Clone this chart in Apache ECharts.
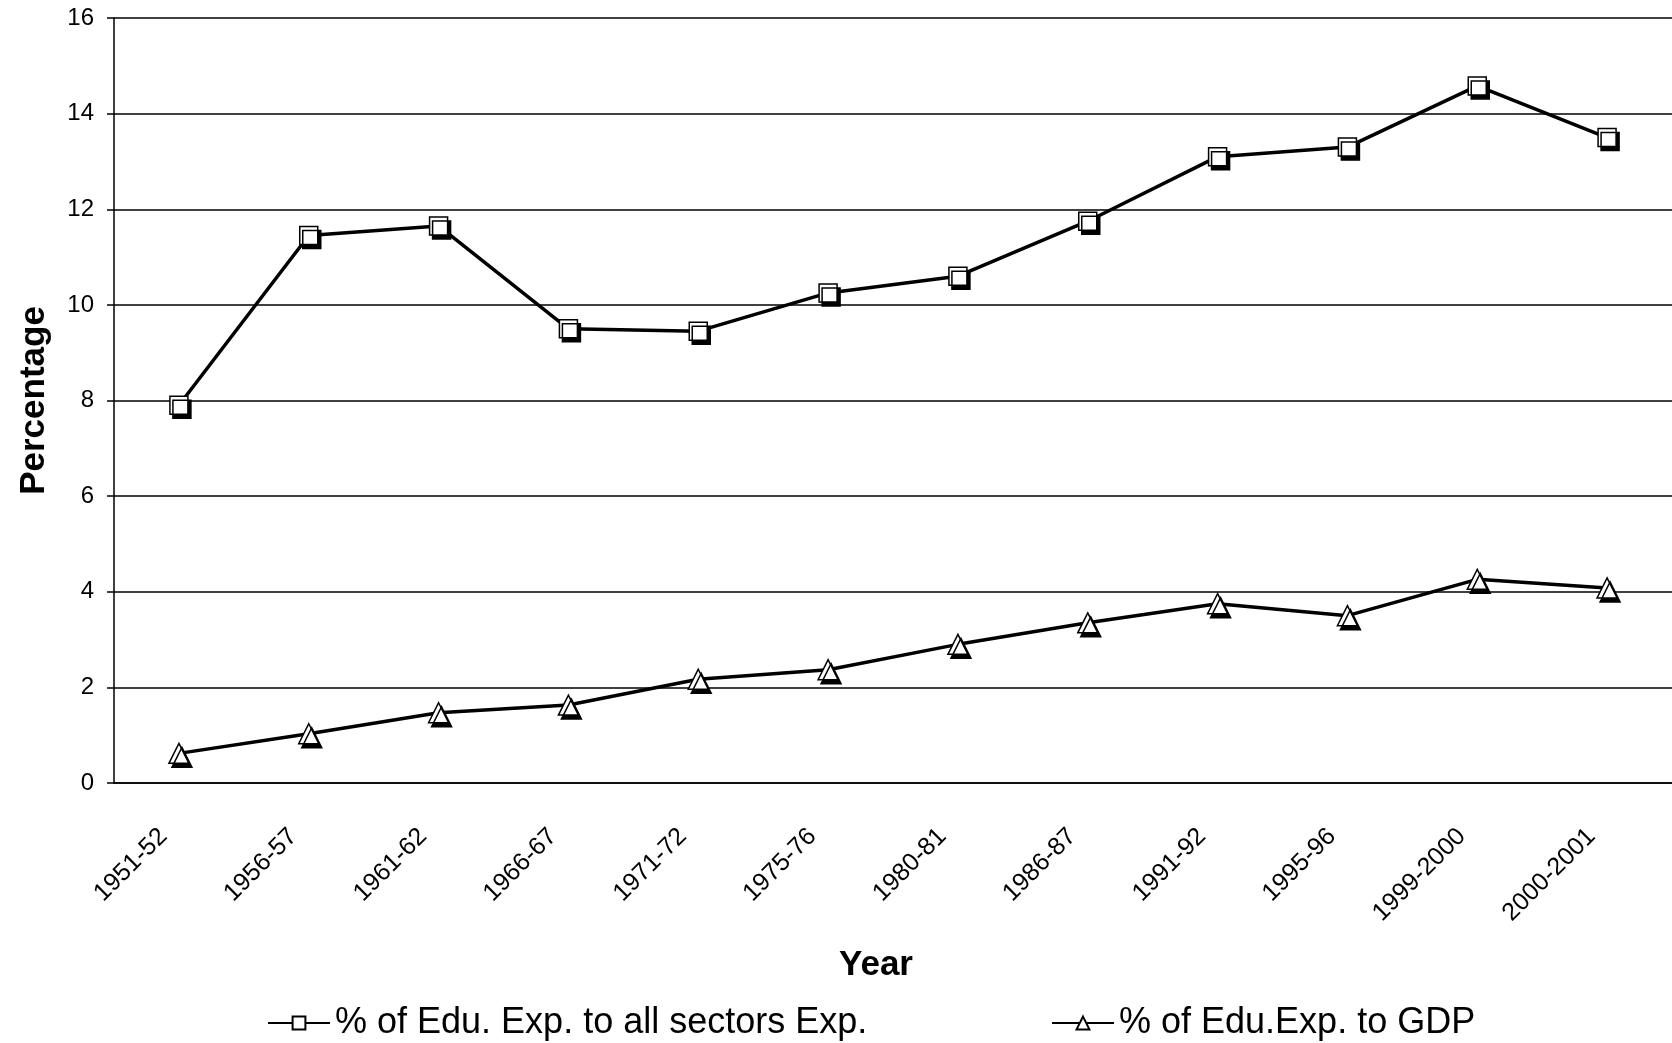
<!DOCTYPE html>
<html>
<head>
<meta charset="utf-8">
<title>Education expenditure</title>
<script src="https://cdn.jsdelivr.net/npm/echarts@6/dist/echarts.min.js"></script>
<style>
  html, body { margin: 0; padding: 0; background: #fff; }
  #chart { width: 1672px; height: 1043px; }
</style>
</head>
<body>
<div id="chart"></div>
<script>
// 年份类别
const years = ["1951-52", "1956-57", "1961-62", "1966-67", "1971-72", "1975-76",
  "1980-81", "1986-87", "1991-92", "1995-96", "1999-2000", "2000-2001"];
// 教育支出占所有部门支出的百分比
const sectorShare = [7.9, 11.45, 11.65, 9.5, 9.45, 10.25, 10.6, 11.75, 13.1, 13.3, 14.58, 13.5];
// 教育支出占 GDP 的百分比
const gdpShare = [0.62, 1.03, 1.47, 1.63, 2.17, 2.37, 2.9, 3.35, 3.75, 3.5, 4.26, 4.08];
const yTicks = [0, 2, 4, 6, 8, 10, 12, 14, 16];

const font = "Liberation Sans, Arial, sans-serif";
const chart = echarts.init(document.getElementById("chart"));

// 白色标记 + 黑色阴影
const markerStyle = {
  color: "#fff",
  borderColor: "#000",
  borderWidth: 1.5,
  shadowColor: "#000",
  shadowBlur: 0,
  shadowOffsetX: 3,
  shadowOffsetY: 4,
};

// 图例:两个独立放置
const legendBase = {
  top: 1000,
  itemWidth: 62,
  itemHeight: 16,
  itemGap: 8,
  itemStyle: { shadowOffsetX: 0, shadowOffsetY: 0, shadowColor: "transparent" },
  textStyle: { fontFamily: font, fontSize: 36, color: "#000" },
};

const option = {
  animation: false,
  backgroundColor: "#fff",
  textStyle: { fontFamily: font, color: "#000" },
  grid: { left: 114, top: 18, width: 1565, bottom: 260 },
  legend: [
    Object.assign({}, legendBase, { left: 262, data: ["% of Edu. Exp. to all sectors Exp."] }),
    Object.assign({}, legendBase, { left: 1046, data: ["% of Edu.Exp. to GDP"] }),
  ],
  xAxis: {
    type: "category",
    data: years,
    name: "Year",
    nameLocation: "middle",
    nameGap: 165,
    nameTextStyle: { fontFamily: font, fontSize: 35, fontWeight: "bold", color: "#000", padding: [0, 34, 0, 0] },
    axisLine: { lineStyle: { color: "#000", width: 1.5 } },
    axisTick: { length: 8, lineStyle: { color: "#000", width: 1.5 } },
    axisLabel: {
      rotate: 45, margin: 34, fontSize: 25, color: "#000", fontFamily: font, interval: 0,
      padding: [0, 22, 0, 0],
    },
  },
  yAxis: {
    type: "value",
    min: 0,
    max: 16,
    interval: 2,
    name: "Percentage",
    nameLocation: "middle",
    nameGap: 62,
    nameTextStyle: { fontFamily: font, fontSize: 35, fontWeight: "bold", color: "#000" },
    axisLine: { show: true, lineStyle: { color: "#000", width: 1.5 } },
    axisTick: { show: true, length: 7, lineStyle: { color: "#000", width: 1.5 } },
    axisLabel: {
      fontSize: 24, color: "#000", fontFamily: font, margin: 20,
      formatter: (v) => (yTicks.includes(v) ? String(v) : ""),
    },
    splitLine: { lineStyle: { color: "#000", width: 1.5 } },
  },
  series: [
    {
      name: "% of Edu. Exp. to all sectors Exp.",
      type: "line",
      data: sectorShare,
      symbol: "rect",
      symbolSize: 18,
      lineStyle: { color: "#000", width: 3.5 },
      itemStyle: markerStyle,
      z: 3,
    },
    {
      name: "% of Edu.Exp. to GDP",
      type: "line",
      data: gdpShare,
      symbol: "triangle",
      symbolSize: 20,
      lineStyle: { color: "#000", width: 3.5 },
      itemStyle: markerStyle,
      z: 3,
    },
  ],
};

chart.setOption(option);
</script>
</body>
</html>
